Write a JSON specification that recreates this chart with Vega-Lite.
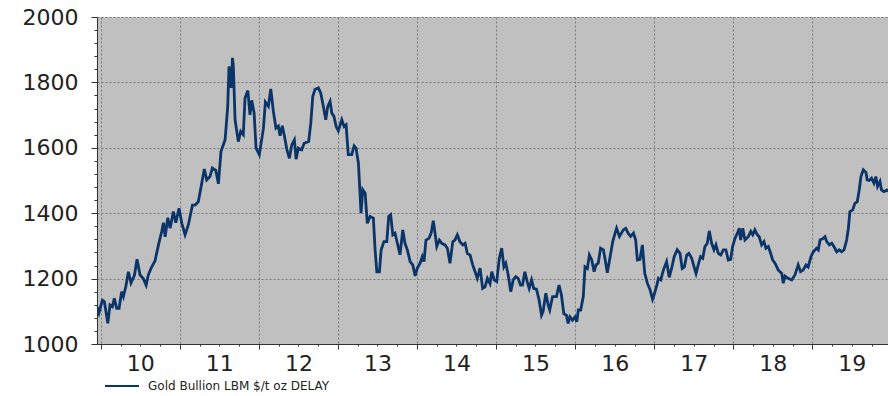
{
"$schema": "https://vega.github.io/schema/vega-lite/v6.json",
"width": 791, "height": 327,
"autosize": {"type": "none"},
"padding": {"left": 97, "top": 17, "right": 0, "bottom": 52},
"background": "white",
"config": {"view": {"fill": "#c0c0c0", "stroke": null}},
"data": {"values": [
{"date":"2009-12-13","price":1114},{"date":"2009-12-22","price":1095},{"date":"2010-01-07","price":1134},{"date":"2010-01-16","price":1130},{"date":"2010-02-01","price":1063},{"date":"2010-02-11","price":1119},{"date":"2010-02-22","price":1114},{"date":"2010-03-03","price":1140},{"date":"2010-03-14","price":1109},{"date":"2010-03-25","price":1109},{"date":"2010-04-06","price":1160},{"date":"2010-04-14","price":1145},{"date":"2010-04-25","price":1175},{"date":"2010-05-07","price":1221},{"date":"2010-05-19","price":1187},{"date":"2010-06-04","price":1210},{"date":"2010-06-16","price":1259},{"date":"2010-06-30","price":1211},{"date":"2010-07-15","price":1200},{"date":"2010-07-28","price":1180},{"date":"2010-08-07","price":1211},{"date":"2010-08-23","price":1236},{"date":"2010-09-07","price":1254},{"date":"2010-09-23","price":1303},{"date":"2010-10-08","price":1344},{"date":"2010-10-16","price":1371},{"date":"2010-10-24","price":1328},{"date":"2010-11-05","price":1386},{"date":"2010-11-16","price":1354},{"date":"2010-12-01","price":1405},{"date":"2010-12-12","price":1371},{"date":"2010-12-27","price":1415},
{"date":"2011-01-09","price":1369},{"date":"2011-01-24","price":1334},{"date":"2011-02-08","price":1364},{"date":"2011-02-27","price":1425},{"date":"2011-03-11","price":1425},{"date":"2011-03-26","price":1435},{"date":"2011-04-08","price":1481},{"date":"2011-04-23","price":1535},{"date":"2011-05-04","price":1502},{"date":"2011-05-19","price":1512},{"date":"2011-05-30","price":1538},{"date":"2011-06-15","price":1531},{"date":"2011-06-27","price":1490},{"date":"2011-07-09","price":1589},{"date":"2011-07-28","price":1625},{"date":"2011-08-09","price":1726},{"date":"2011-08-15","price":1849},{"date":"2011-08-25","price":1783},{"date":"2011-08-31","price":1875},{"date":"2011-09-04","price":1849},{"date":"2011-09-12","price":1686},{"date":"2011-09-27","price":1619},{"date":"2011-10-08","price":1650},{"date":"2011-10-20","price":1640},{"date":"2011-10-28","price":1752},{"date":"2011-11-10","price":1775},{"date":"2011-11-20","price":1701},{"date":"2011-11-28","price":1745},{"date":"2011-12-09","price":1707},{"date":"2011-12-18","price":1599},
{"date":"2012-01-02","price":1579},{"date":"2012-01-13","price":1625},{"date":"2012-01-21","price":1660},{"date":"2012-01-30","price":1740},{"date":"2012-02-13","price":1727},{"date":"2012-02-24","price":1780},{"date":"2012-03-07","price":1711},{"date":"2012-03-19","price":1660},{"date":"2012-03-30","price":1666},{"date":"2012-04-07","price":1637},{"date":"2012-04-17","price":1667},{"date":"2012-04-27","price":1636},{"date":"2012-05-08","price":1596},{"date":"2012-05-20","price":1568},{"date":"2012-05-31","price":1609},{"date":"2012-06-12","price":1624},{"date":"2012-06-20","price":1565},{"date":"2012-06-30","price":1599},{"date":"2012-07-16","price":1594},{"date":"2012-07-27","price":1614},{"date":"2012-08-17","price":1619},{"date":"2012-08-27","price":1676},{"date":"2012-09-05","price":1757},{"date":"2012-09-15","price":1778},{"date":"2012-10-01","price":1783},{"date":"2012-10-12","price":1767},{"date":"2012-10-24","price":1726},{"date":"2012-11-04","price":1686},{"date":"2012-11-13","price":1726},{"date":"2012-11-24","price":1742},{"date":"2012-12-02","price":1706},{"date":"2012-12-12","price":1696},{"date":"2012-12-22","price":1665},
{"date":"2013-01-01","price":1652},{"date":"2013-01-17","price":1686},{"date":"2013-01-28","price":1665},{"date":"2013-02-06","price":1670},{"date":"2013-02-16","price":1579},{"date":"2013-03-04","price":1579},{"date":"2013-03-15","price":1606},{"date":"2013-03-24","price":1599},{"date":"2013-04-04","price":1553},{"date":"2013-04-16","price":1400},{"date":"2013-04-24","price":1472},{"date":"2013-05-05","price":1461},{"date":"2013-05-15","price":1369},{"date":"2013-05-28","price":1390},{"date":"2013-06-12","price":1385},{"date":"2013-06-20","price":1288},{"date":"2013-06-28","price":1221},{"date":"2013-07-10","price":1221},{"date":"2013-07-18","price":1288},{"date":"2013-07-31","price":1313},{"date":"2013-08-13","price":1313},{"date":"2013-08-22","price":1390},{"date":"2013-08-31","price":1395},{"date":"2013-09-10","price":1334},{"date":"2013-09-20","price":1339},{"date":"2013-10-01","price":1308},{"date":"2013-10-13","price":1273},{"date":"2013-10-26","price":1349},{"date":"2013-11-05","price":1308},{"date":"2013-11-16","price":1288},{"date":"2013-11-29","price":1252},{"date":"2013-12-11","price":1242},{"date":"2013-12-22","price":1208},
{"date":"2014-01-01","price":1232},{"date":"2014-01-14","price":1247},{"date":"2014-01-24","price":1267},{"date":"2014-02-01","price":1252},{"date":"2014-02-10","price":1318},{"date":"2014-02-24","price":1323},{"date":"2014-03-06","price":1339},{"date":"2014-03-16","price":1377},{"date":"2014-03-25","price":1334},{"date":"2014-04-01","price":1298},{"date":"2014-04-13","price":1318},{"date":"2014-04-24","price":1308},{"date":"2014-05-09","price":1303},{"date":"2014-05-20","price":1293},{"date":"2014-06-01","price":1247},{"date":"2014-06-14","price":1313},{"date":"2014-06-24","price":1318},{"date":"2014-07-05","price":1334},{"date":"2014-07-17","price":1313},{"date":"2014-07-30","price":1303},{"date":"2014-08-10","price":1308},{"date":"2014-08-20","price":1277},{"date":"2014-09-02","price":1272},{"date":"2014-09-14","price":1242},{"date":"2014-09-25","price":1221},{"date":"2014-10-05","price":1201},{"date":"2014-10-18","price":1232},{"date":"2014-10-30","price":1170},{"date":"2014-11-10","price":1175},{"date":"2014-11-21","price":1201},{"date":"2014-12-03","price":1185},{"date":"2014-12-11","price":1221},{"date":"2014-12-22","price":1196},
{"date":"2015-01-03","price":1191},{"date":"2015-01-15","price":1262},{"date":"2015-01-26","price":1293},{"date":"2015-02-05","price":1236},{"date":"2015-02-14","price":1247},{"date":"2015-02-25","price":1211},{"date":"2015-03-09","price":1160},{"date":"2015-03-20","price":1196},{"date":"2015-04-01","price":1206},{"date":"2015-04-12","price":1201},{"date":"2015-04-23","price":1180},{"date":"2015-05-02","price":1180},{"date":"2015-05-13","price":1221},{"date":"2015-05-24","price":1190},{"date":"2015-06-02","price":1170},{"date":"2015-06-13","price":1196},{"date":"2015-06-23","price":1170},{"date":"2015-07-06","price":1167},{"date":"2015-07-18","price":1134},{"date":"2015-07-29","price":1088},{"date":"2015-08-05","price":1099},{"date":"2015-08-18","price":1155},{"date":"2015-08-29","price":1119},{"date":"2015-09-05","price":1104},{"date":"2015-09-18","price":1145},{"date":"2015-10-06","price":1145},{"date":"2015-10-18","price":1180},{"date":"2015-10-29","price":1150},{"date":"2015-11-09","price":1093},{"date":"2015-11-21","price":1088},{"date":"2015-11-29","price":1063},{"date":"2015-12-07","price":1083},{"date":"2015-12-19","price":1073},{"date":"2015-12-31","price":1083},
{"date":"2016-01-08","price":1068},{"date":"2016-01-15","price":1104},{"date":"2016-01-26","price":1104},{"date":"2016-02-07","price":1145},{"date":"2016-02-15","price":1236},{"date":"2016-02-26","price":1231},{"date":"2016-03-06","price":1272},{"date":"2016-03-17","price":1257},{"date":"2016-03-28","price":1221},{"date":"2016-04-06","price":1242},{"date":"2016-04-16","price":1247},{"date":"2016-04-27","price":1293},{"date":"2016-05-10","price":1288},{"date":"2016-05-17","price":1262},{"date":"2016-05-28","price":1218},{"date":"2016-06-10","price":1267},{"date":"2016-06-22","price":1313},{"date":"2016-07-03","price":1339},{"date":"2016-07-10","price":1354},{"date":"2016-07-23","price":1329},{"date":"2016-08-10","price":1349},{"date":"2016-08-21","price":1354},{"date":"2016-09-01","price":1339},{"date":"2016-09-13","price":1329},{"date":"2016-09-26","price":1339},{"date":"2016-10-06","price":1318},{"date":"2016-10-14","price":1257},{"date":"2016-10-26","price":1259},{"date":"2016-11-06","price":1303},{"date":"2016-11-17","price":1216},{"date":"2016-11-29","price":1186},{"date":"2016-12-12","price":1165},{"date":"2016-12-23","price":1137},{"date":"2016-12-30","price":1150},
{"date":"2017-01-12","price":1180},{"date":"2017-01-19","price":1201},{"date":"2017-01-30","price":1196},{"date":"2017-02-11","price":1226},{"date":"2017-02-26","price":1252},{"date":"2017-03-10","price":1204},{"date":"2017-03-21","price":1231},{"date":"2017-04-02","price":1267},{"date":"2017-04-16","price":1288},{"date":"2017-04-29","price":1277},{"date":"2017-05-09","price":1231},{"date":"2017-05-19","price":1236},{"date":"2017-05-30","price":1272},{"date":"2017-06-09","price":1277},{"date":"2017-06-22","price":1262},{"date":"2017-07-03","price":1236},{"date":"2017-07-12","price":1216},{"date":"2017-07-22","price":1242},{"date":"2017-08-02","price":1267},{"date":"2017-08-12","price":1262},{"date":"2017-08-22","price":1298},{"date":"2017-09-02","price":1308},{"date":"2017-09-11","price":1346},{"date":"2017-09-22","price":1308},{"date":"2017-10-03","price":1288},{"date":"2017-10-12","price":1303},{"date":"2017-10-23","price":1277},{"date":"2017-11-03","price":1272},{"date":"2017-11-15","price":1288},{"date":"2017-11-27","price":1288},{"date":"2017-12-08","price":1257},{"date":"2017-12-19","price":1259},{"date":"2017-12-28","price":1298},
{"date":"2018-01-08","price":1323},{"date":"2018-01-19","price":1339},{"date":"2018-01-28","price":1354},{"date":"2018-02-03","price":1318},{"date":"2018-02-13","price":1354},{"date":"2018-02-23","price":1318},{"date":"2018-03-03","price":1323},{"date":"2018-03-11","price":1329},{"date":"2018-03-22","price":1344},{"date":"2018-03-31","price":1334},{"date":"2018-04-10","price":1349},{"date":"2018-04-21","price":1334},{"date":"2018-04-30","price":1328},{"date":"2018-05-11","price":1303},{"date":"2018-05-22","price":1313},{"date":"2018-05-31","price":1293},{"date":"2018-06-11","price":1298},{"date":"2018-06-22","price":1277},{"date":"2018-07-01","price":1257},{"date":"2018-07-12","price":1247},{"date":"2018-07-27","price":1226},{"date":"2018-08-12","price":1216},{"date":"2018-08-19","price":1186},{"date":"2018-08-27","price":1208},{"date":"2018-09-11","price":1201},{"date":"2018-09-27","price":1196},{"date":"2018-10-12","price":1211},{"date":"2018-10-27","price":1242},{"date":"2018-11-07","price":1221},{"date":"2018-11-19","price":1226},{"date":"2018-12-02","price":1242},{"date":"2018-12-12","price":1236},{"date":"2018-12-25","price":1267},
{"date":"2019-01-05","price":1282},{"date":"2019-01-20","price":1293},{"date":"2019-01-28","price":1288},{"date":"2019-02-05","price":1318},{"date":"2019-02-20","price":1323},{"date":"2019-02-28","price":1328},{"date":"2019-03-08","price":1313},{"date":"2019-03-20","price":1303},{"date":"2019-03-31","price":1308},{"date":"2019-04-10","price":1298},{"date":"2019-04-23","price":1282},{"date":"2019-05-05","price":1288},{"date":"2019-05-16","price":1282},{"date":"2019-05-27","price":1288},{"date":"2019-06-08","price":1318},{"date":"2019-06-16","price":1354},{"date":"2019-06-23","price":1405},{"date":"2019-07-06","price":1410},{"date":"2019-07-16","price":1430},{"date":"2019-07-27","price":1435},{"date":"2019-08-05","price":1471},{"date":"2019-08-13","price":1512},{"date":"2019-08-24","price":1533},{"date":"2019-09-05","price":1525},{"date":"2019-09-11","price":1502},{"date":"2019-09-20","price":1500},{"date":"2019-10-01","price":1507},{"date":"2019-10-12","price":1492},{"date":"2019-10-21","price":1512},{"date":"2019-10-29","price":1482},{"date":"2019-11-09","price":1497},{"date":"2019-11-16","price":1471},{"date":"2019-11-27","price":1466},{"date":"2019-12-10","price":1471},{"date":"2019-12-16","price":1466}
]},
"mark": {"type": "line", "strokeWidth": 2.8, "interpolate": "linear", "clip": true},
"encoding": {
"x": {"field": "date", "type": "temporal",
 "scale": {"type": "utc", "domain": [{"year":2009,"month":12,"date":13,"utc":true},{"year":2019,"month":12,"date":16,"utc":true}]},
 "axis": {"title": null,
  "values": [
   {"year":2010,"month":1,"date":1,"utc":true},{"year":2010,"month":4,"date":1,"utc":true},{"year":2010,"month":7,"date":1,"utc":true},{"year":2010,"month":10,"date":1,"utc":true},
   {"year":2011,"month":1,"date":1,"utc":true},{"year":2011,"month":4,"date":1,"utc":true},{"year":2011,"month":7,"date":1,"utc":true},{"year":2011,"month":10,"date":1,"utc":true},
   {"year":2012,"month":1,"date":1,"utc":true},{"year":2012,"month":4,"date":1,"utc":true},{"year":2012,"month":7,"date":1,"utc":true},{"year":2012,"month":10,"date":1,"utc":true},
   {"year":2013,"month":1,"date":1,"utc":true},{"year":2013,"month":4,"date":1,"utc":true},{"year":2013,"month":7,"date":1,"utc":true},{"year":2013,"month":10,"date":1,"utc":true},
   {"year":2014,"month":1,"date":1,"utc":true},{"year":2014,"month":4,"date":1,"utc":true},{"year":2014,"month":7,"date":1,"utc":true},{"year":2014,"month":10,"date":1,"utc":true},
   {"year":2015,"month":1,"date":1,"utc":true},{"year":2015,"month":4,"date":1,"utc":true},{"year":2015,"month":7,"date":1,"utc":true},{"year":2015,"month":10,"date":1,"utc":true},
   {"year":2016,"month":1,"date":1,"utc":true},{"year":2016,"month":4,"date":1,"utc":true},{"year":2016,"month":7,"date":1,"utc":true},{"year":2016,"month":10,"date":1,"utc":true},
   {"year":2017,"month":1,"date":1,"utc":true},{"year":2017,"month":4,"date":1,"utc":true},{"year":2017,"month":7,"date":1,"utc":true},{"year":2017,"month":10,"date":1,"utc":true},
   {"year":2018,"month":1,"date":1,"utc":true},{"year":2018,"month":4,"date":1,"utc":true},{"year":2018,"month":7,"date":1,"utc":true},{"year":2018,"month":10,"date":1,"utc":true},
   {"year":2019,"month":1,"date":1,"utc":true},{"year":2019,"month":4,"date":1,"utc":true},{"year":2019,"month":7,"date":1,"utc":true},{"year":2019,"month":10,"date":1,"utc":true}
  ],
  "labelExpr": "utcmonth(datum.value) === 6 ? utcFormat(datum.value, '%y') : ''",
  "labelFont": "DejaVu Sans", "labelFontSize": 22, "labelColor": "#222222",
  "labelPadding": 7, "labelFlush": false, "labelOverlap": false, "labelAngle": 0, "labelBound": false,
  "tickSize": {"condition": {"test": "utcmonth(datum.value) === 0", "value": 5}, "value": 2},
  "tickColor": "#333333", "domainColor": "#333333", "domainWidth": 1,
  "grid": true, "gridColor": "#7a7a7a", "gridDash": [2, 2], "gridWidth": 1,
  "gridOpacity": {"condition": {"test": "utcmonth(datum.value) === 0", "value": 1}, "value": 0}
 }},
"y": {"field": "price", "type": "quantitative",
 "scale": {"domain": [1000, 2000], "nice": false, "zero": false},
 "axis": {"title": null,
  "values": [1000,1040,1080,1120,1160,1200,1240,1280,1320,1360,1400,1440,1480,1520,1560,1600,1640,1680,1720,1760,1800,1840,1880,1920,1960,2000],
  "labelExpr": "datum.value % 200 === 0 ? '' + datum.value : ''",
  "labelFont": "DejaVu Sans", "labelFontSize": 22, "labelColor": "#222222",
  "labelPadding": 13, "labelOverlap": false, "labelFlush": false, "labelBound": false,
  "tickSize": {"condition": {"test": "datum.value % 200 === 0", "value": 6}, "value": 3},
  "tickColor": "#333333", "domainColor": "#333333", "domainWidth": 1,
  "grid": true, "gridColor": "#7a7a7a", "gridDash": [2, 2], "gridWidth": 1,
  "gridOpacity": {"condition": {"test": "datum.value % 200 === 0", "value": 1}, "value": 0}
 }},
"color": {"datum": "Gold Bullion LBM $/t oz DELAY", "type": "nominal",
 "scale": {"range": ["#0b3468"]},
 "legend": {"title": null, "orient": "none", "legendX": 7, "legendY": 351, "padding": 0,
  "symbolType": "stroke", "symbolSize": 1156, "symbolStrokeWidth": 2,
  "labelFont": "DejaVu Sans", "labelFontSize": 12, "labelColor": "#222222", "labelOffset": 8, "labelLimit": 500}}
}
}
